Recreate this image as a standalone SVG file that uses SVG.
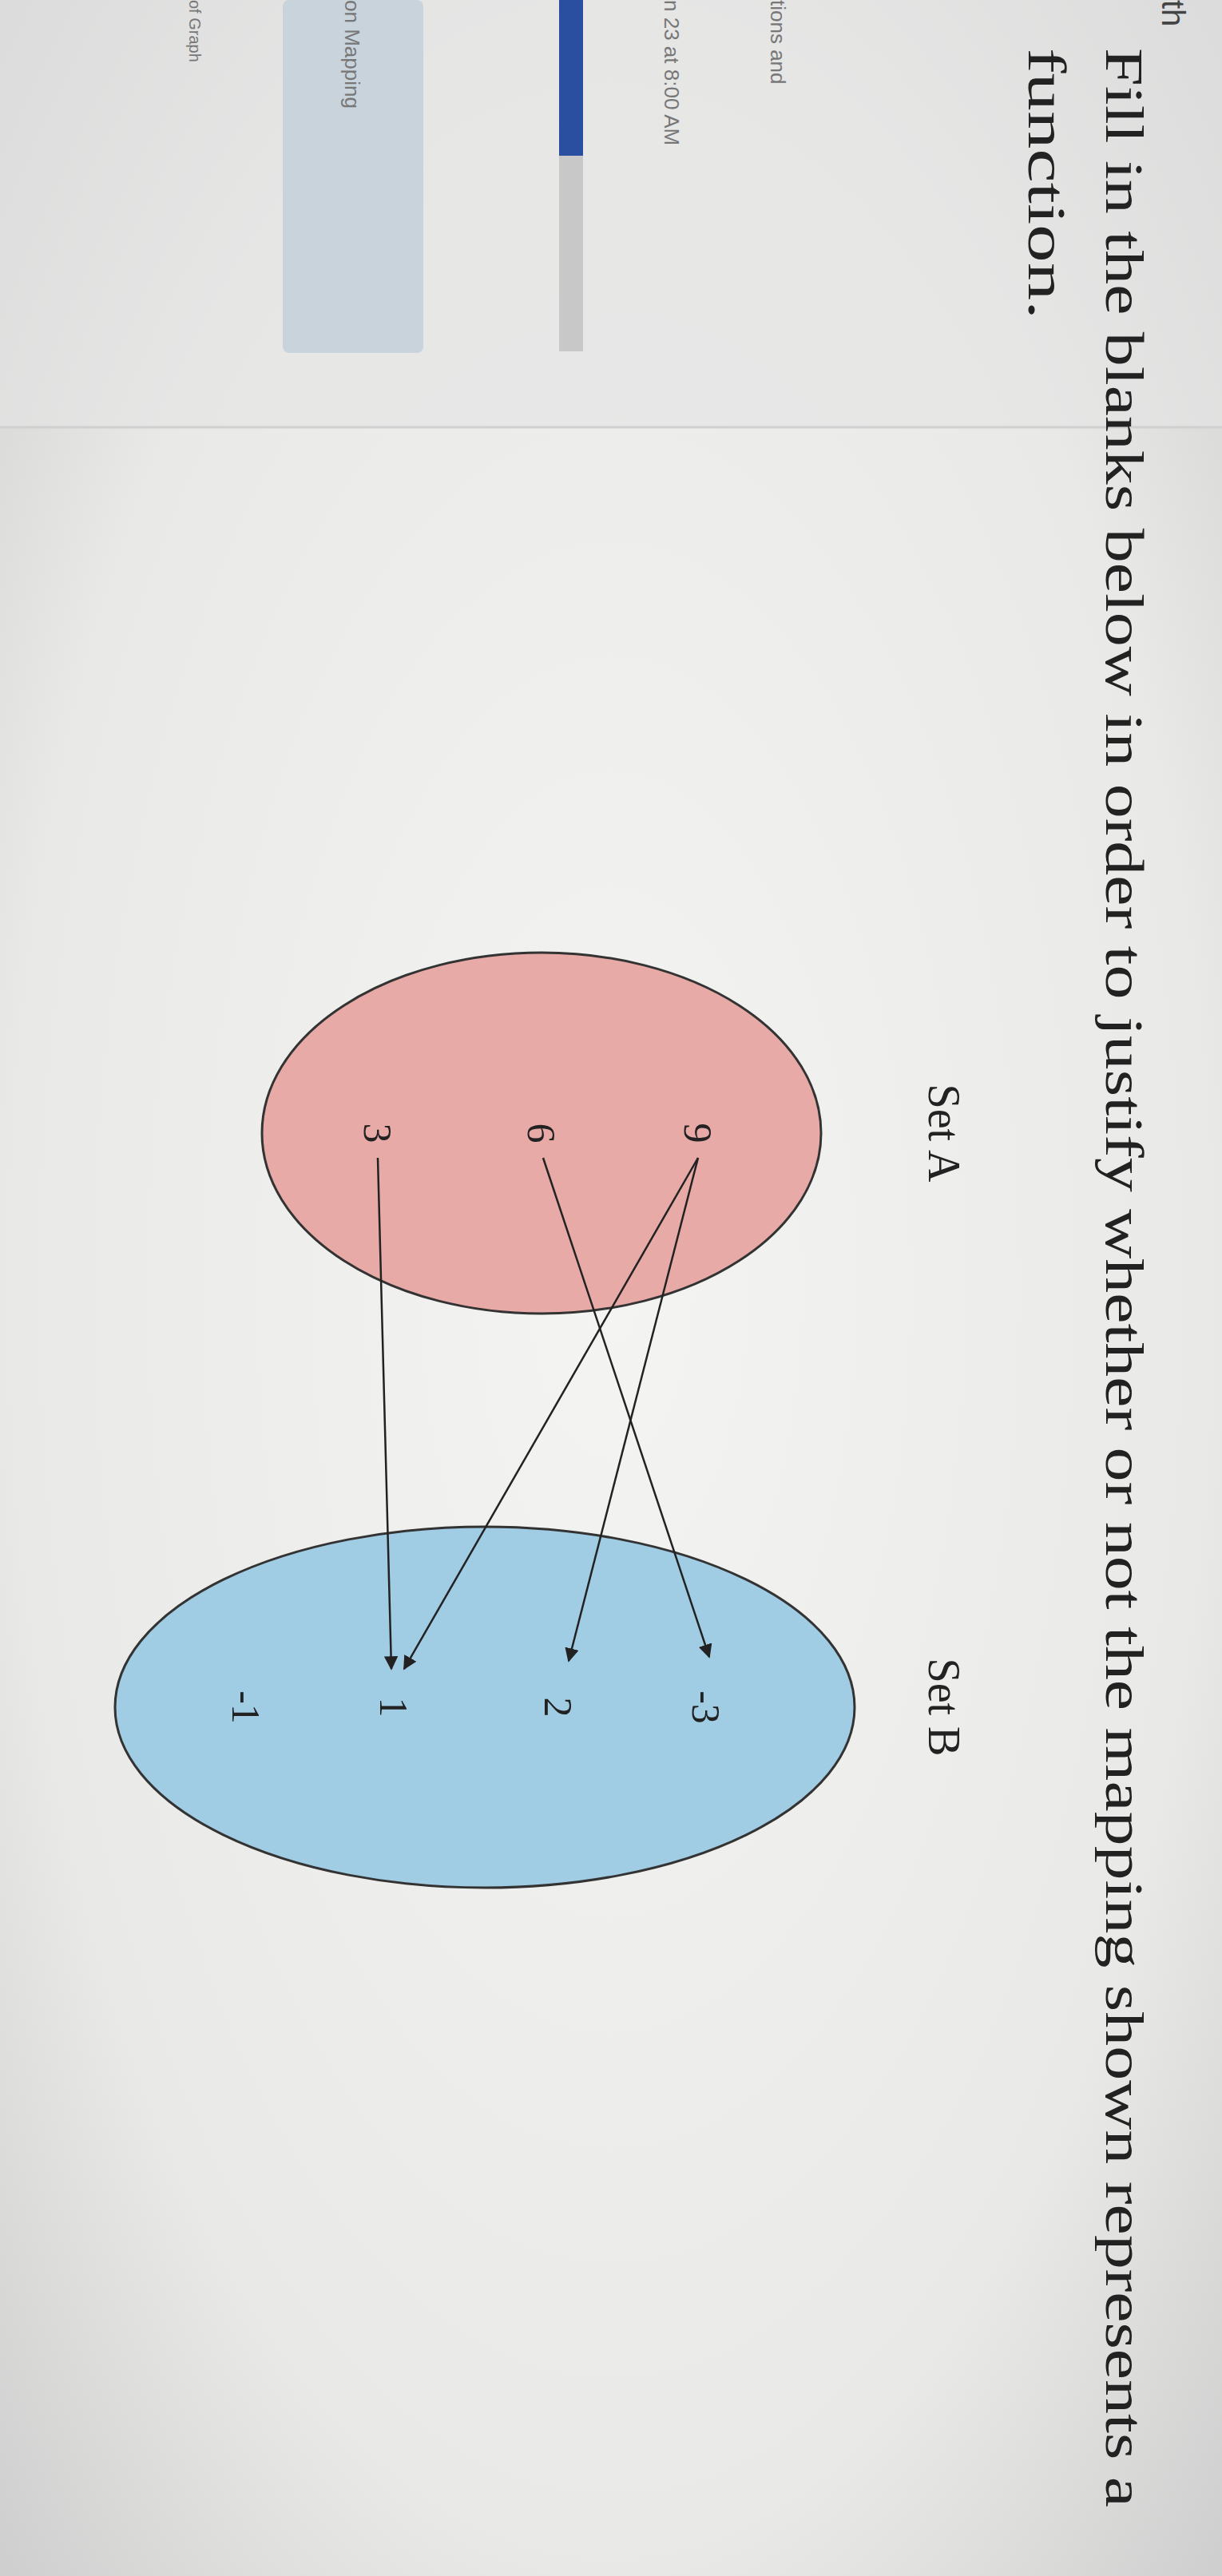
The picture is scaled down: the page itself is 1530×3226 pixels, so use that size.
<svg xmlns="http://www.w3.org/2000/svg" width="1530" height="3226" viewBox="0 0 1530 3226">
<defs>
<radialGradient id="bg" cx="0.5" cy="0.5" r="0.7">
<stop offset="0" stop-color="#f4f4f2"/><stop offset="0.7" stop-color="#e9e9e7"/><stop offset="1" stop-color="#cfcfcf"/>
</radialGradient>
<marker id="ah" viewBox="0 0 10 10" refX="9" refY="5" markerWidth="7" markerHeight="7" orient="auto"><path d="M0,0 L10,5 L0,10 z" fill="#222"/></marker>
<style>
.t{font-family:"Liberation Serif",serif;fill:#222}
.s{font-family:"Liberation Sans",sans-serif;fill:#777;font-size:26px}
.n{font-family:"Liberation Serif",serif;fill:#222;font-size:50px;text-anchor:middle;dominant-baseline:central}
.c line{stroke:#222;stroke-width:2.5;marker-end:url(#ah)}
</style>
</defs>
<rect width="1530" height="3226" fill="url(#bg)"/>
<g id="sidebar">
<rect x="0" y="0" width="1530" height="535" fill="#e4e4e4" opacity="0.6"/>
<line x1="0" y1="535" x2="1530" y2="535" stroke="#d0d0d0" stroke-width="3"/>
<rect x="354" y="0" width="176" height="442" rx="8" fill="#c9d3dc"/>
<rect x="700" y="195" width="30" height="245" fill="#c8c8c8"/>
<rect x="700" y="0" width="30" height="195" fill="#2a4fa0"/>
<text class="s" transform="translate(1455,0) rotate(90)" style="font-size:40px;fill:#444">th</text>
<text class="s" transform="translate(965,0) rotate(90)">tions and</text>
<text class="s" transform="translate(832,0) rotate(90)">n 23 at 8:00 AM</text>
<text class="s" transform="translate(432,0) rotate(90)">on Mapping</text>
<text class="s" transform="translate(237,0) rotate(90)" style="font-size:20px">of Graph</text>
</g>
<g id="title">
<text class="t" transform="translate(1385,60) rotate(90)" font-size="68" textLength="3080" lengthAdjust="spacingAndGlyphs">Fill in the blanks below in order to justify whether or not the mapping shown represents a</text>
<text class="t" transform="translate(1288,60) rotate(90)" font-size="68" textLength="340" lengthAdjust="spacingAndGlyphs">function.</text>
</g>
<g id="setA">
<ellipse cx="678" cy="1419" rx="350" ry="226" fill="#e8aaa6" stroke="#333" stroke-width="3"/>
<text class="t" transform="translate(1182,1419) rotate(90)" font-size="56" text-anchor="middle" dominant-baseline="central">Set A</text>
<text class="n" transform="translate(874,1419) rotate(90)">9</text>
<text class="n" transform="translate(678,1419) rotate(90)">6</text>
<text class="n" transform="translate(473,1419) rotate(90)">3</text>
</g>
<g id="setB">
<ellipse cx="607" cy="2138" rx="463" ry="226" fill="#a0cce4" stroke="#333" stroke-width="3"/>
<text class="t" transform="translate(1182,2138) rotate(90)" font-size="56" text-anchor="middle" dominant-baseline="central">Set B</text>
<text class="n" transform="translate(884,2138) rotate(90)">-3</text>
<text class="n" transform="translate(699,2138) rotate(90)">2</text>
<text class="n" transform="translate(493,2138) rotate(90)">1</text>
<text class="n" transform="translate(308,2138) rotate(90)">-1</text>
</g>
<g id="connectors" class="c">
<line x1="874" y1="1450" x2="712" y2="2080"/>
<line x1="874" y1="1450" x2="506" y2="2090"/>
<line x1="680" y1="1450" x2="888" y2="2075"/>
<line x1="473" y1="1450" x2="490" y2="2090"/>
</g>
</svg>
